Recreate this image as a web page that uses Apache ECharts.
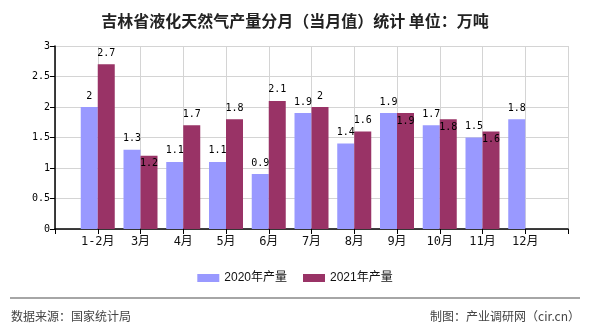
<!DOCTYPE html>
<html><head><meta charset="utf-8">
<script src="https://cdn.jsdelivr.net/npm/echarts@6/dist/echarts.min.js"></script>
<style>html,body{margin:0;padding:0;background:#fff}#c{width:590px;height:330px}</style>
</head><body><div id="c"></div>
<script>
var categories = ['', '1-2月', '3月', '4月', '5月', '6月', '7月', '8月', '9月', '10月', '11月', '12月', ''];
var v2020 = [null, 2, 1.3, 1.1, 1.1, 0.9, 1.9, 1.4, 1.9, 1.7, 1.5, 1.8, null];
var v2021 = [null, 2.7, 1.2, 1.7, 1.8, 2.1, 2, 1.6, 1.9, 1.8, 1.6, null, null];
var seriesNames = ['2020年产量', '2021年产量'];
var yTicks = [0, 0.5, 1, 1.5, 2, 2.5, 3];
var titleText = '吉林省液化天然气产量分月（当月值）统计 单位：万吨';
var sourceText = '数据来源：国家统计局';
var makerText = '制图：产业调研网（cir.cn）';

var numFont = 'DejaVu Sans Mono';
var cjk = '"Noto Sans CJK SC"';

var d2021 = v2021.map(function (v, i) {
  if (v == null) return v;
  var p = v2020[i];
  var inside = p != null && v - p <= 0.1001 && String(v).length > 1;
  return inside ? { value: v, label: { position: 'insideTop', distance: 3 } } : v;
});

var chart = echarts.init(document.getElementById('c'));
chart.setOption({
  animation: false,
  title: {
    text: titleText, left: 'center', top: 8,
    textStyle: { fontSize: 16, fontWeight: 'bold', color: '#222', fontFamily: cjk }
  },
  grid: { left: 55, right: 22, top: 46, bottom: 101 },
  legend: {
    bottom: 41, left: 'center', itemWidth: 22, itemHeight: 8, itemGap: 16, itemTextGap: 4,
    icon: 'rect',
    textStyle: { fontSize: 12, color: '#111', fontFamily: 'Liberation Sans, ' + cjk },
    data: seriesNames
  },
  xAxis: {
    type: 'category', data: categories, boundaryGap: false,
    axisLine: { lineStyle: { color: '#000', width: 1.5 } },
    axisTick: { show: true, length: 5, lineStyle: { color: '#000' } },
    axisLabel: { color: '#111', fontSize: 12, margin: 7, interval: 0, fontFamily: numFont + ', ' + cjk },
    splitLine: { show: true, lineStyle: { color: '#d4d4d4' } }
  },
  yAxis: {
    type: 'value', min: 0, max: 3, interval: 0.5,
    axisLine: { show: true, lineStyle: { color: '#000', width: 1.5 } },
    axisTick: { show: true, length: 5, lineStyle: { color: '#000' } },
    axisLabel: { color: '#000', fontSize: 10, margin: 5, fontFamily: numFont,
      formatter: function (v) { return yTicks.indexOf(v) >= 0 ? String(v) : ''; } },
    splitLine: { lineStyle: { color: '#d4d4d4' } }
  },
  series: [
    { name: seriesNames[0], type: 'bar', data: v2020, barWidth: 17, barGap: '0%',
      itemStyle: { color: '#9999FF' },
      label: { show: true, position: 'top', distance: 6, fontSize: 10, color: '#000', fontFamily: numFont } },
    { name: seriesNames[1], type: 'bar', data: d2021, barWidth: 17, barGap: '0%',
      itemStyle: { color: '#993366' },
      label: { show: true, position: 'top', distance: 6, fontSize: 10, color: '#000', fontFamily: numFont } }
  ],
  graphic: [
    { type: 'line', shape: { x1: 10, y1: 298, x2: 580, y2: 298 }, style: { stroke: '#888', lineWidth: 1.5 } },
    { type: 'text', left: 11, top: 310, style: { text: sourceText, fontSize: 12, fill: '#444', fontFamily: cjk } },
    { type: 'text', right: 10, top: 310, style: { text: makerText, fontSize: 12, fill: '#444', fontFamily: cjk } }
  ]
});
</script></body></html>
